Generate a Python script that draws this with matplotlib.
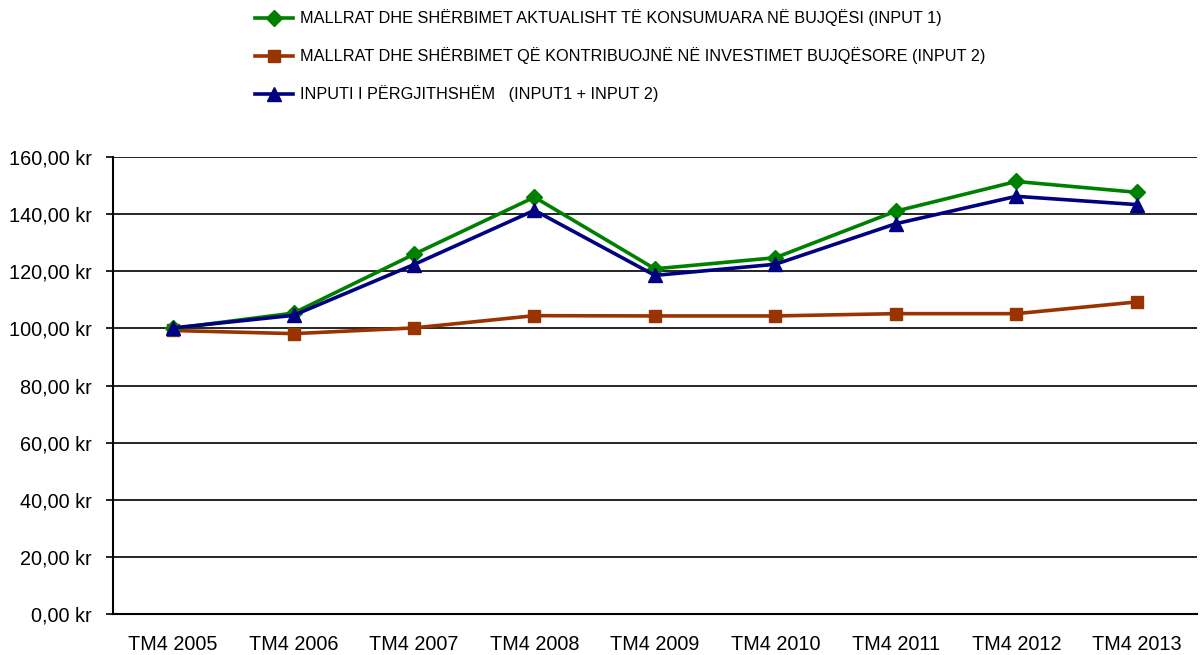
import matplotlib
matplotlib.use('Agg')
import matplotlib.pyplot as plt

plt.rcParams['font.family'] = ['Liberation Sans', 'DejaVu Sans']

## Data
quarters = ['TM4 2005', 'TM4 2006', 'TM4 2007', 'TM4 2008', 'TM4 2009',
            'TM4 2010', 'TM4 2011', 'TM4 2012', 'TM4 2013']
input1 = [100.0, 105.4, 126.0, 146.0, 120.9, 124.8, 141.1, 151.5, 147.7]
input2 = [99.3, 98.2, 100.2, 104.5, 104.4, 104.4, 105.2, 105.2, 109.3]
total = [100.2, 104.6, 122.4, 141.4, 118.6, 122.5, 136.7, 146.3, 143.4]

labels = ['MALLRAT DHE SHËRBIMET AKTUALISHT TË KONSUMUARA NË BUJQËSI (INPUT 1)',
          'MALLRAT DHE SHËRBIMET QË KONTRIBUOJNË NË INVESTIMET BUJQËSORE (INPUT 2)',
          'INPUTI I PËRGJITHSHËM   (INPUT1 + INPUT 2)']

fig = plt.figure(figsize=(12, 6.55), dpi=100)
ax = fig.add_axes([0.094, 0.0626, 0.9035, 0.6974])

x = range(len(quarters))
ax.plot(x, input1, color='#008000', lw=2.6, marker='D', ms=8, label=labels[0], zorder=4)
ax.plot(x, input2, color='#993300', lw=2.6, marker='s', ms=9, label=labels[1], zorder=3)
ax.plot(x, total, color='#000080', lw=2.6, marker='^', ms=10, label=labels[2], zorder=5)

ax.set_xlim(-0.5, len(quarters) - 0.5)
ax.set_ylim(0, 160)
ax.set_yticks(range(0, 161, 20))
ax.set_yticklabels([f'{v},00 kr' for v in range(0, 161, 20)])
ax.set_xticks(list(x))
ax.set_xticklabels(quarters)
ax.tick_params(axis='y', length=5, width=1.2, labelsize=14.3, pad=10)
ax.tick_params(axis='x', length=0, labelsize=14.3, pad=15)
ax.yaxis.grid(True, color='black', lw=1.2)
ax.set_axisbelow(True)
for s in ['top', 'right']:
    ax.spines[s].set_visible(False)
for s in ['left', 'bottom']:
    ax.spines[s].set_linewidth(1.5)

fig.legend(loc='upper left', bbox_to_anchor=(0.2, 1.008), frameon=False,
           fontsize=11.7, handlelength=2.35, handletextpad=0.45, labelspacing=1.3)

fig.savefig('out.png', dpi=100)
